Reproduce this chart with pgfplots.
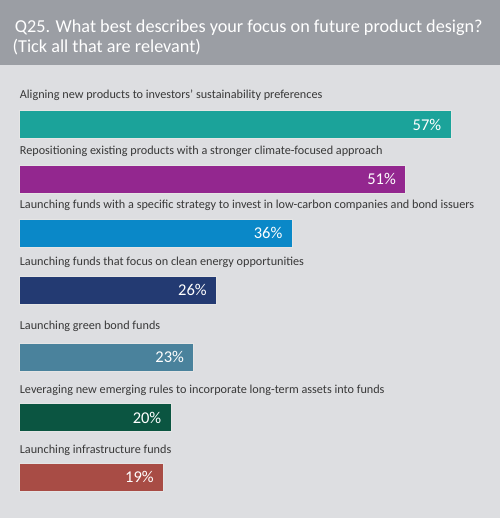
\documentclass[border=0pt]{standalone}
\usepackage{pgfplots}
\pgfplotsset{compat=1.18}
\usepackage{fontspec}
\setmainfont{Carlito}
\definecolor{bgpanel}{HTML}{DDDEE1}
\definecolor{hdr}{HTML}{9B9EA4}
\definecolor{cA}{HTML}{1BA39A}
\definecolor{cB}{HTML}{93278F}
\definecolor{cC}{HTML}{0A88C8}
\definecolor{cD}{HTML}{233A72}
\definecolor{cE}{HTML}{4A829C}
\definecolor{cF}{HTML}{0B5541}
\definecolor{cG}{HTML}{A84C45}
\begin{document}
\begin{tikzpicture}
\begin{axis}[
  scale only axis,
  width=500pt, height=518pt,
  xmin=-2.60, xmax=63.48,
  ymin=0, ymax=518, y dir=reverse,
  axis lines=none,
  clip=false,
  xbar, bar width=28, bar shift=0pt,
  /pgf/number format/assume math mode=true,
  nodes near coords={\pgfmathprintnumber{\pgfplotspointmeta}\%},
  point meta=x,
  every node near coord/.append style={anchor=east, xshift=-6pt, text=white,
    font=\fontsize{16.5}{17}\selectfont},
  every axis plot/.append style={draw=white!80!gray, line width=0.8pt},
]
% panel and header band
\fill[bgpanel] (axis cs:-2.60,0) rectangle (axis cs:63.48,518);
\fill[hdr] (axis cs:-2.60,0) rectangle (axis cs:63.48,65);
\node[anchor=base west, text=white, font=\fontsize{18.2}{20}\selectfont, inner sep=0pt]
  at (axis cs:-0.65,32.5) {Q25. What best describes your focus on future product design?};
\node[anchor=base west, text=white, font=\fontsize{18.2}{20}\selectfont, inner sep=0pt]
  at (axis cs:-0.95,52.5) {(Tick all that are relevant)};

\addplot[fill=cA] coordinates {(57,124.5)};
\addplot[fill=cB] coordinates {(51,179)};
\addplot[fill=cC] coordinates {(36,233)};
\addplot[fill=cD] coordinates {(26,290)};
\addplot[fill=cE] coordinates {(23,357)};
\addplot[fill=cF] coordinates {(20,417.5)};
\addplot[fill=cG] coordinates {(19,477)};

\begin{scope}[every node/.style={anchor=base west, inner sep=0pt, text=black!78,
    font=\fontsize{12.2}{13}\selectfont}]
\node at (axis cs:0,99) {Aligning new products to investors' sustainability preferences};
\node at (axis cs:0,155) {Repositioning existing products with a stronger climate-focused approach};
\node at (axis cs:0,209) {Launching funds with a specific strategy to invest in low-carbon companies and bond issuers};
\node at (axis cs:0,265) {Launching funds that focus on clean energy opportunities};
\node at (axis cs:0,329) {Launching green bond funds};
\node at (axis cs:0,393) {Leveraging new emerging rules to incorporate long-term assets into funds};
\node at (axis cs:0,453) {Launching infrastructure funds};
\end{scope}
\end{axis}
\end{tikzpicture}
\end{document}
